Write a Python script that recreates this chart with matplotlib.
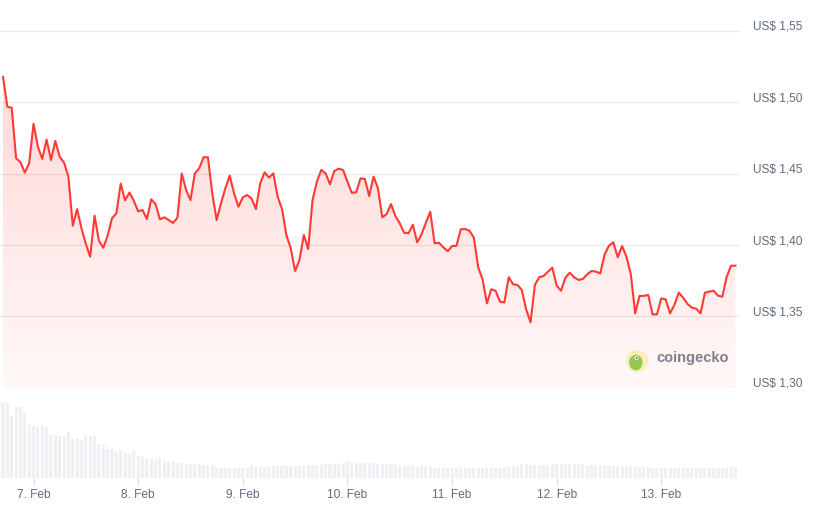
import matplotlib
matplotlib.use("Agg")
import matplotlib.pyplot as plt
import matplotlib.dates as mdates
import matplotlib.patches as mpatches
from matplotlib.transforms import ScaledTranslation
from matplotlib.ticker import FuncFormatter, FixedLocator
import numpy as np
import pandas as pd

# ── data (hourly) ────────────────────────────────────────────────────────────
START = "2024-02-06 17:00"

prices = [
    1.5179, 1.4969, 1.4962, 1.4608, 1.4580, 1.4507, 1.4573, 1.4850, 1.4689, 1.4603,
    1.4738, 1.4596, 1.4729, 1.4619, 1.4577, 1.4479, 1.4135, 1.4252, 1.4117, 1.4007,
    1.3918, 1.4205, 1.4030, 1.3981, 1.4065, 1.4187, 1.4222, 1.4430, 1.4313, 1.4368,
    1.4310, 1.4236, 1.4245, 1.4182, 1.4320, 1.4285, 1.4180, 1.4194, 1.4175, 1.4154,
    1.4191, 1.4502, 1.4385, 1.4315, 1.4502, 1.4537, 1.4615, 1.4615, 1.4362, 1.4175,
    1.4292, 1.4397, 1.4486, 1.4362, 1.4268, 1.4334, 1.4350, 1.4327, 1.4252, 1.4432,
    1.4509, 1.4472, 1.4502, 1.4338, 1.4252, 1.4070, 1.3977, 1.3818, 1.3895, 1.4070,
    1.3972, 1.4315, 1.4444, 1.4526, 1.4502, 1.4425, 1.4519, 1.4535, 1.4526, 1.4444,
    1.4366, 1.4369, 1.4467, 1.4462, 1.4343, 1.4479, 1.4397, 1.4194, 1.4217, 1.4287,
    1.4203, 1.4152, 1.4086, 1.4082, 1.4142, 1.4019, 1.4075, 1.4156, 1.4233, 1.4012,
    1.4016, 1.3984, 1.3956, 1.3993, 1.3993, 1.4110, 1.4112, 1.4100, 1.4051, 1.3844,
    1.3760, 1.3591, 1.3690, 1.3678, 1.3603, 1.3597, 1.3774, 1.3725, 1.3720, 1.3685,
    1.3549, 1.3458, 1.3720, 1.3774, 1.3783, 1.3813, 1.3841, 1.3715, 1.3680, 1.3771,
    1.3806, 1.3774, 1.3755, 1.3762, 1.3795, 1.3818, 1.3813, 1.3801, 1.3935, 1.3995,
    1.4019, 1.3914, 1.3993, 1.3918, 1.3797, 1.3521, 1.3643, 1.3643, 1.3650, 1.3514,
    1.3514, 1.3626, 1.3619, 1.3521, 1.3580, 1.3666, 1.3631, 1.3587, 1.3561, 1.3554,
    1.3521, 1.3666, 1.3673, 1.3680, 1.3645, 1.3638, 1.3778, 1.3855, 1.3855,
]

volumes = [
    75.3, 75.3, 62.0, 70.7, 70.7, 66.0, 52.7, 52.0, 50.3, 52.7,
    50.7, 42.7, 42.7, 41.7, 41.0, 45.7, 39.3, 40.0, 37.7, 42.7,
    42.0, 42.7, 33.7, 32.7, 28.7, 28.7, 25.7, 27.7, 25.3, 23.7,
    26.7, 21.7, 20.7, 20.0, 18.7, 18.3, 20.0, 16.7, 16.7, 16.0,
    14.7, 14.7, 14.3, 14.3, 13.7, 13.7, 13.3, 13.3, 13.3, 10.0,
    10.0, 10.3, 10.0, 10.0, 10.0, 10.3, 10.0, 12.7, 11.0, 11.0,
    11.3, 11.0, 11.7, 11.7, 11.7, 12.0, 11.7, 11.7, 12.0, 12.0,
    13.3, 13.3, 13.3, 13.3, 14.3, 14.3, 14.3, 14.3, 15.0, 17.3,
    15.7, 14.7, 14.7, 14.7, 14.7, 14.7, 13.7, 13.7, 13.7, 13.7,
    13.7, 12.3, 12.0, 11.7, 11.7, 11.3, 11.7, 11.7, 11.3, 10.3,
    10.0, 10.0, 10.3, 10.0, 10.0, 10.7, 10.0, 10.0, 10.3, 10.0,
    10.0, 10.7, 10.0, 10.3, 10.0, 11.0, 11.3, 11.0, 11.3, 13.3,
    13.7, 13.0, 13.3, 13.3, 13.0, 13.3, 14.0, 13.7, 13.7, 13.7,
    14.0, 13.3, 13.7, 13.7, 12.3, 12.7, 12.3, 12.3, 12.7, 12.0,
    12.3, 12.3, 11.0, 11.3, 11.0, 11.0, 11.3, 10.7, 11.0, 10.0,
    10.0, 10.3, 10.0, 10.0, 10.0, 10.3, 10.0, 10.0, 10.0, 10.3,
    10.0, 10.0, 10.0, 10.0, 10.3, 10.0, 10.0, 11.0, 11.0,
]

price_ticks = [1.30, 1.35, 1.40, 1.45, 1.50, 1.55]
day_ticks = pd.date_range("2024-02-07", "2024-02-13", freq="D")

times = pd.date_range(START, periods=len(prices), freq="h")

# ── style ────────────────────────────────────────────────────────────────────
LINE_C = "#ff3a33"
GRID_C = "#ececec"
LABEL_C = "#5f6b7e"
VOL_C = "#eef0f4"
TICK_C = "#dde3ea"

plt.rcParams["font.family"] = ["Liberation Sans", "DejaVu Sans"]

W, H = 813, 519
fig = plt.figure(figsize=(W / 100, H / 100), dpi=100)
fig.patch.set_facecolor("white")

RIGHT = 740
ax = fig.add_axes([0, (H - 388) / H, RIGHT / W, (388 - 20) / H])
axv = fig.add_axes([0, (H - 478) / H, RIGHT / W, (478 - 400) / H], sharex=ax)

for a in (ax, axv):
    a.set_facecolor("none")
    for s in a.spines.values():
        s.set_visible(False)

step = pd.Timedelta(hours=1)
xlims = (times[0] - 0.69 * step, times[-1] + 1.05 * step)

# ── price panel ──────────────────────────────────────────────────────────────
ylo = 1.30 - 0.3 / 1427
yhi = 1.55 + 10.95 / 1427

ax.yaxis.set_major_locator(FixedLocator(price_ticks))
ax.grid(axis="y", color=GRID_C, linewidth=1.0)
ax.set_axisbelow(True)
ax.yaxis.tick_right()
ax.tick_params(axis="y", length=0, pad=9.5, labelsize=8.6, labelcolor=LABEL_C)
ax.yaxis.set_major_formatter(
    FuncFormatter(lambda v, _: "US$ " + f"{v:.2f}".replace(".", ","))
)
# labels sit a little above their grid lines
for lab in ax.get_yticklabels():
    lab.set_transform(lab.get_transform() + ScaledTranslation(0, 5.5 / 100, fig.dpi_scale_trans))
ax.tick_params(axis="x", bottom=False, labelbottom=False)

# gradient fill under the line
poly = ax.fill_between(times, prices, ylo, facecolor="none", edgecolor="none")
xnum = mdates.date2num(times)
grad = np.linspace(0, 1, 256).reshape(-1, 1)
rgba = np.zeros((256, 1, 4))
rgba[..., 0] = 1.0
rgba[..., 1] = 58 / 255
rgba[..., 2] = 51 / 255
rgba[..., 3] = 0.035 + 0.16 * grad
img = ax.imshow(rgba, extent=[xnum[0], xnum[-1], ylo, max(prices)], origin="lower",
                aspect="auto", interpolation="bilinear", zorder=1)
img.set_clip_path(poly.get_paths()[0], transform=ax.transData)

ax.plot(times, prices, color=LINE_C, linewidth=1.5, zorder=3, solid_joinstyle="round")
ax.set_xlim(*xlims)
ax.set_ylim(ylo, yhi)

# ── volume panel ─────────────────────────────────────────────────────────────
axv.bar(times, volumes, width=0.7 / 24, color=VOL_C, linewidth=0, zorder=2)
axv.set_ylim(0, 78)
axv.set_yticks([])
axv.xaxis.set_major_locator(FixedLocator(mdates.date2num(day_ticks)))
axv.xaxis.set_major_formatter(
    FuncFormatter(lambda v, _: f"{mdates.num2date(v).day}. Feb")
)
axv.tick_params(axis="x", length=5, width=1, color=TICK_C, pad=3.2,
                labelsize=8.6, labelcolor=LABEL_C)
axv.set_xlim(*xlims)

# ── coingecko watermark ──────────────────────────────────────────────────────
logo = fig.add_axes([(637 - 12) / W, (H - 361 - 12) / H, 24 / W, 24 / H])
logo.set_xlim(-12, 12)
logo.set_ylim(-12, 12)
logo.set_axis_off()
logo.add_patch(mpatches.Circle((0, 0), 11, facecolor="#fbeeb8", edgecolor="none"))
logo.add_patch(mpatches.Ellipse((-1.2, -1.5), 13.5, 15.5, facecolor="#92c952", edgecolor="none"))
logo.add_patch(mpatches.Circle((-0.5, 3.0), 2.0, facecolor="white", edgecolor="none"))
logo.add_patch(mpatches.Circle((-0.3, 3.0), 0.9, facecolor="#5a4a6e", edgecolor="none"))
fig.text(656 / W, 1 - 358 / H, "coingecko", fontsize=10.5, fontweight="bold",
         color="#857c8d", ha="left", va="center")

fig.savefig("out.png", dpi=100, facecolor="white")
